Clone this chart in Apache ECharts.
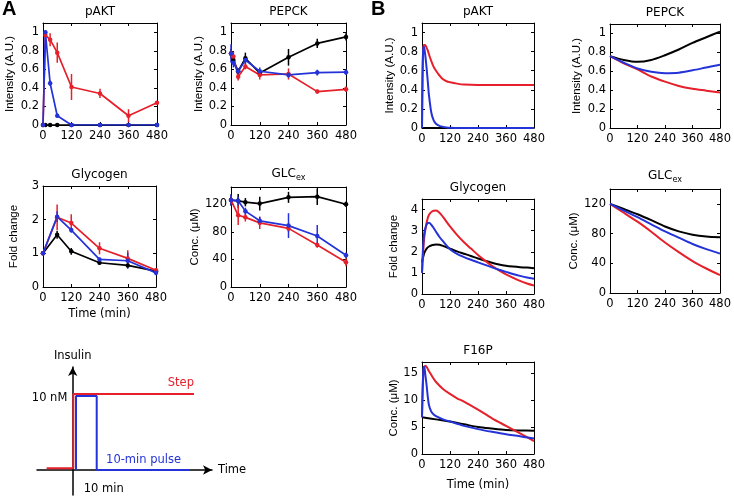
<!DOCTYPE html>
<html><head><meta charset="utf-8">
<script src="https://cdn.jsdelivr.net/npm/echarts@6/dist/echarts.min.js"></script>
<style>html,body{margin:0;padding:0;background:#fff}#c{width:734px;height:496px}</style>
</head><body><div id="c"></div>
<script>
// ---------- Panel A (experiment) ----------
const aPaktT = [0, 10, 30, 60, 120, 240, 360, 480];
const aPaktNone = [0, 0, 0, 0, 0, 0, 0, 0];
const aPaktStep = [0, 0.97, 0.92, 0.78, 0.41, 0.34, 0.10, 0.24];
const aPaktStepErr = [0, 0.03, 0.07, 0.11, 0.14, 0.05, 0.07, 0.02];
const aPaktPulse = [0, 1.0, 0.45, 0.10, 0, 0, 0, 0];
const aPaktPulseErr = [0, 0.02, 0.03, 0.02, 0, 0, 0, 0];

const aPepckT = [0, 10, 30, 60, 120, 240, 360, 480];
const aPepckNone = [0.77, 0.70, 0.58, 0.72, 0.56, 0.73, 0.88, 0.95];
const aPepckNoneErr = [0.05, 0.04, 0.03, 0.06, 0.03, 0.09, 0.05, 0.04];
const aPepckStep = [0.77, 0.74, 0.52, 0.63, 0.54, 0.55, 0.36, 0.385];
const aPepckStepErr = [0.04, 0.05, 0.04, 0.03, 0.05, 0.06, 0.02, 0.03];
const aPepckPulse = [0.77, 0.67, 0.58, 0.70, 0.58, 0.54, 0.565, 0.57];
const aPepckPulseErr = [0.10, 0.05, 0.03, 0.04, 0.04, 0.03, 0.03, 0.03];

const aGlyT = [0, 60, 120, 240, 360, 480];
const aGlyNone = [1.0, 1.55, 1.06, 0.72, 0.64, 0.47];
const aGlyNoneErr = [0, 0.12, 0.10, 0.06, 0.05, 0.04];
const aGlyStep = [1.0, 2.07, 1.90, 1.15, 0.85, 0.50];
const aGlyStepErr = [0, 0.38, 0.26, 0.18, 0.24, 0.05];
const aGlyPulse = [1.0, 2.09, 1.69, 0.82, 0.78, 0.42];
const aGlyPulseErr = [0.05, 0.16, 0.08, 0.05, 0.24, 0.07];

const aGlcT = [0, 30, 60, 120, 240, 360, 480];
const aGlcNone = [126, 125, 123, 121, 130, 131, 120];
const aGlcNoneErr = [8, 10, 6, 10, 8, 12, 4];
const aGlcStep = [126, 104, 101, 93, 85, 61, 36];
const aGlcStepErr = [6, 14, 6, 9, 5, 4, 6];
const aGlcPulse = [126, 125, 110, 96, 89, 74, 46];
const aGlcPulseErr = [8, 6, 5, 6, 18, 16, 4];

// ---------- Panel B (model) ----------
const bPaktT = [0, 2, 5, 8, 12, 16, 20, 25, 30, 40, 50, 60, 75, 90, 105, 120, 150, 180, 240, 300, 360, 420, 480];
const bPaktStep = [0, 0.5, 0.82, 0.87, 0.87, 0.86, 0.84, 0.81, 0.77, 0.70, 0.64, 0.60, 0.55, 0.51, 0.49, 0.48, 0.465, 0.455, 0.45, 0.45, 0.45, 0.45, 0.45];
const bPaktPulse = [0, 0.5, 0.83, 0.85, 0.80, 0.72, 0.62, 0.48, 0.34, 0.16, 0.08, 0.045, 0.022, 0.012, 0.006, 0.003, 0, 0, 0, 0, 0, 0, 0];
const bPaktNoneT = [0, 480];
const bPaktNone = [0, 0];

const bPepckT = [0, 60, 120, 180, 240, 300, 360, 420, 480];
const bPepckNone = [0.76, 0.72, 0.70, 0.72, 0.77, 0.83, 0.90, 0.96, 1.02];
const bPepckStep = [0.76, 0.685, 0.62, 0.545, 0.49, 0.445, 0.415, 0.395, 0.375];
const bPepckPulse = [0.76, 0.69, 0.63, 0.595, 0.58, 0.585, 0.61, 0.64, 0.67];

const bGlyT = [0, 5, 10, 20, 30, 45, 60, 75, 90, 120, 150, 180, 210, 240, 270, 300, 330, 360, 390, 420, 450, 480];
const bGlyStep = [1.0, 2.0, 2.7, 3.4, 3.75, 3.93, 3.95, 3.85, 3.65, 3.2, 2.8, 2.45, 2.15, 1.85, 1.58, 1.33, 1.12, 0.93, 0.77, 0.62, 0.5, 0.4];
const bGlyPulse = [1.0, 2.3, 2.9, 3.3, 3.38, 3.2, 2.95, 2.7, 2.5, 2.12, 1.9, 1.75, 1.62, 1.5, 1.38, 1.26, 1.15, 1.05, 0.95, 0.86, 0.78, 0.72];
const bGlyNone = [1.5, 1.75, 1.95, 2.15, 2.25, 2.32, 2.35, 2.33, 2.28, 2.15, 2.02, 1.91, 1.8, 1.68, 1.58, 1.48, 1.4, 1.34, 1.3, 1.27, 1.25, 1.22];

const bGlcT = [0, 60, 120, 180, 240, 300, 360, 420, 480];
const bGlcNone = [120, 113, 106, 98, 89.5, 83, 78.5, 76, 75];
const bGlcStep = [120, 108, 96, 82.5, 68, 55, 43, 33, 24];
const bGlcPulse = [120, 111, 102, 92.5, 83, 74.5, 66, 59, 53];

const bF16T = [0, 3, 6, 8, 10, 12, 15, 20, 25, 30, 40, 50, 60, 90, 120, 150, 180, 240, 300, 360, 420, 480];
const bF16Step = [6.8, 12.0, 14.8, 15.6, 16.0, 16.2, 16.3, 16.1, 15.7, 15.3, 14.6, 13.9, 13.3, 12.0, 11.1, 10.3, 9.7, 8.2, 6.6, 5.2, 3.8, 2.4];
const bF16Pulse = [6.8, 12.5, 15.6, 16.1, 16.0, 15.5, 14.4, 12.6, 10.5, 9.0, 7.8, 7.3, 7.0, 6.4, 6.0, 5.6, 5.2, 4.6, 4.1, 3.65, 3.3, 2.85];
const bF16NoneT = [0, 60, 120, 180, 240, 300, 360, 420, 480];
const bF16None = [6.8, 6.4, 6.0, 5.5, 5.0, 4.7, 4.45, 4.35, 4.3];

// ---------- Insulin schematic ----------
const insStepT = [-12.6, 0.3, 0.3, 58.6];
const insStepV = [0.22, 0.22, 10, 10];
const insPulseT = [1.6, 1.6, 11.6, 11.6, 56.7];
const insPulseV = [0, 9.74, 9.74, 0, 0];

// ---------- styling ----------
const FONT = 'DejaVu Sans';
const FONT_V = 'Liberation Sans';
const RED = '#e5202a', BLUE = '#2433d8', BLACK = '#000000';

const panels = [
  {box: [43, 23, 114, 102], title: 'pAKT', ymax: 1.1, yint: 0.2, yname: 'Intensity (A.U.)', ygap: 27, exp: true,
   lines: [[aPaktT, aPaktNone, null, BLACK], [aPaktT, aPaktStep, aPaktStepErr, RED], [aPaktT, aPaktPulse, aPaktPulseErr, BLUE]]},
  {box: [231, 23, 115, 102], title: 'PEPCK', ymax: 1.1, yint: 0.2, yname: 'Intensity (A.U.)', ygap: 26, exp: true,
   lines: [[aPepckT, aPepckNone, aPepckNoneErr, BLACK], [aPepckT, aPepckStep, aPepckStepErr, RED], [aPepckT, aPepckPulse, aPepckPulseErr, BLUE]]},
  {box: [43, 186, 113, 101], title: 'Glycogen', ymax: 3, yint: 1, yname: 'Fold change', ygap: 23, exp: true, xname: 'Time (min)', xgap: 21,
   lines: [[aGlyT, aGlyNone, aGlyNoneErr, BLACK], [aGlyT, aGlyStep, aGlyStepErr, RED], [aGlyT, aGlyPulse, aGlyPulseErr, BLUE]]},
  {box: [231, 187, 115, 100], title: 'GLCex', ymax: 145, yint: 40, yname: 'Conc. (\u03bcM)', ygap: 28, exp: true,
   lines: [[aGlcT, aGlcNone, aGlcNoneErr, BLACK], [aGlcT, aGlcStep, aGlcStepErr, RED], [aGlcT, aGlcPulse, aGlcPulseErr, BLUE]]},
  {box: [422, 23, 112, 105], title: 'pAKT', ymax: 1.1, yint: 0.2, yname: 'Intensity (A.U.)', ygap: 25,
   lines: [[bPaktNoneT, bPaktNone, null, BLACK], [bPaktT, bPaktStep, null, RED], [bPaktT, bPaktPulse, null, BLUE]]},
  {box: [610, 24, 114, 104], title: 'PEPCK', ymax: 1.1, yint: 0.2, yname: 'Intensity (A.U.)', ygap: 27,
   lines: [[bPepckT, bPepckNone, null, BLACK], [bPepckT, bPepckStep, null, RED], [bPepckT, bPepckPulse, null, BLUE]]},
  {box: [422, 199, 112, 95], title: 'Glycogen', ymax: 4.5, yint: 1, yname: 'Fold change', ygap: 22,
   lines: [[bGlyT, bGlyNone, null, BLACK], [bGlyT, bGlyStep, null, RED], [bGlyT, bGlyPulse, null, BLUE]]},
  {box: [610, 189, 113, 104], title: 'GLCex', ymax: 140, yint: 40, yname: 'Conc. (\u03bcM)', ygap: 27,
   lines: [[bGlcT, bGlcNone, null, BLACK], [bGlcT, bGlcStep, null, RED], [bGlcT, bGlcPulse, null, BLUE]]},
  {box: [422, 362, 112, 92], title: 'F16P', ymax: 17, yint: 5, yname: 'Conc. (\u03bcM)', ygap: 22, xname: 'Time (min)', xgap: 25,
   lines: [[bF16NoneT, bF16None, null, BLACK], [bF16T, bF16Step, null, RED], [bF16T, bF16Pulse, null, BLUE]]}
];

const grids = [], xAxes = [], yAxes = [], series = [];
const fmt = v => String(Math.round(v * 1000) / 1000);
const lineStyleAx = {color: '#000', width: 1};

function titleName(t) {
  if (t === 'GLCex') return '{m|GLC}{s|ex}';
  return t;
}
const titleRich = {
  m: {fontSize: 12, fontFamily: FONT, color: '#000', verticalAlign: 'top'},
  s: {fontSize: 8, fontFamily: FONT, color: '#000', padding: [6, 0, 0, 0], verticalAlign: 'top'}
};

panels.forEach((p, i) => {
  grids.push({left: p.box[0], top: p.box[1], width: p.box[2], height: p.box[3], containLabel: false});
  const xb = {gridIndex: i, type: 'value', min: 0, max: 480, interval: 120,
    axisLine: {onZero: false, lineStyle: lineStyleAx},
    axisTick: {inside: true, length: 3, lineStyle: {color: '#000'}},
    splitLine: {show: false}};
  xAxes.push(Object.assign({}, xb, {position: 'bottom',
    axisLabel: {margin: 5, fontSize: 11.5, color: '#000', fontFamily: FONT, formatter: fmt},
    name: p.xname || '', nameLocation: 'middle', nameGap: p.xgap || 20,
    nameTextStyle: {fontSize: 11.5, color: '#000', fontFamily: FONT}}));
  xAxes.push(Object.assign({}, xb, {position: 'top', axisLabel: {show: false},
    name: titleName(p.title), nameLocation: 'middle', nameGap: 5,
    nameTextStyle: {fontSize: 12, color: '#000', fontFamily: FONT, rich: titleRich}}));
  const yb = {gridIndex: i, type: 'value', min: 0, max: p.ymax, interval: p.yint,
    axisLine: {onZero: false, lineStyle: lineStyleAx},
    axisTick: {inside: true, length: 3, lineStyle: {color: '#000'}},
    splitLine: {show: false}};
  yAxes.push(Object.assign({}, yb, {position: 'left',
    axisLabel: {margin: 4, fontSize: 11.5, color: '#000', fontFamily: FONT, formatter: fmt, showMaxLabel: (p.ymax % p.yint === 0)},
    name: p.yname, nameLocation: 'middle', nameGap: p.ygap, nameRotate: 90,
    nameTextStyle: {fontSize: 11.5, color: '#000', fontFamily: FONT_V}}));
  yAxes.push(Object.assign({}, yb, {position: 'right', axisLabel: {show: false}}));

  const xi = 2 * i, yi = 2 * i;
  p.lines.forEach(([t, v, e, c]) => {
    series.push({type: 'line', xAxisIndex: xi, yAxisIndex: yi,
      data: t.map((x, k) => [x, v[k]]),
      showSymbol: !!p.exp, symbol: 'circle', symbolSize: p.exp ? 4.5 : 0,
      smooth: p.exp ? false : 0.3,
      lineStyle: {color: c, width: p.exp ? 1.7 : 2},
      itemStyle: {color: c}, clip: true, silent: true});
    if (e) {
      series.push({type: 'custom', xAxisIndex: xi, yAxisIndex: yi, silent: true,
        data: t.map((x, k) => [x, v[k], e[k]]),
        renderItem: (params, api) => {
          const x = api.value(0), y = api.value(1), d = api.value(2);
          if (!d) return {type: 'group', children: []};
          const p1 = api.coord([x, y - d]), p2 = api.coord([x, y + d]);
          return {type: 'line', shape: {x1: p1[0], y1: p1[1], x2: p2[0], y2: p2[1]},
            style: {stroke: c, lineWidth: 1.5}};
        }});
    }
  });
});

// schematic grid
const gs = panels.length;
grids.push({left: 37, top: 367, width: 175, height: 128});
xAxes.push({gridIndex: gs, type: 'value', min: -17.25, max: 67.3,
  axisLine: {onZero: true, symbol: ['none', 'arrow'], symbolSize: [7, 9], lineStyle: {color: '#000', width: 1.5}},
  axisTick: {show: false}, axisLabel: {show: false}, splitLine: {show: false},
  name: 'Time', nameLocation: 'end', nameGap: 6,
  nameTextStyle: {fontSize: 11.5, color: '#000', fontFamily: FONT}});
yAxes.push({gridIndex: gs, type: 'value', min: -3.29, max: 13.55,
  axisLine: {onZero: true, symbol: ['none', 'arrow'], symbolSize: [7, 9], lineStyle: {color: '#000', width: 1.5}},
  axisTick: {show: false}, axisLabel: {show: false}, splitLine: {show: false},
  name: 'Insulin', nameLocation: 'end', nameGap: 5,
  nameTextStyle: {fontSize: 11.5, color: '#000', fontFamily: FONT}});
const sxi = xAxes.length - 1, syi = yAxes.length - 1;
const lbl = (text, extra) => Object.assign({show: true, formatter: text, fontSize: 11.5, fontFamily: FONT}, extra);
series.push({type: 'line', xAxisIndex: sxi, yAxisIndex: syi, silent: true,
  symbol: 'circle', symbolSize: 0.01, showSymbol: true,
  lineStyle: {color: BLUE, width: 2}, itemStyle: {color: BLUE},
  data: insPulseT.map((x, k) => {
    const d = {value: [x, insPulseV[k]]};
    if (k === 3) d.label = lbl('10 min', {position: 'bottom', distance: 13, offset: [7, 0], color: '#000'});
    if (k === 4) d.label = lbl('10-min pulse', {position: 'top', align: 'right', distance: 4, offset: [-9, 0], color: BLUE});
    return d;
  })});
series.push({type: 'line', xAxisIndex: sxi, yAxisIndex: syi, silent: true,
  symbol: 'circle', symbolSize: 0.01, showSymbol: true,
  lineStyle: {color: RED, width: 2}, itemStyle: {color: RED},
  data: insStepT.map((x, k) => {
    const d = {value: [x, insStepV[k]]};
    if (k === 2) d.label = lbl('10 nM', {position: 'left', distance: 6, offset: [0, 4], color: '#000'});
    if (k === 3) d.label = lbl('Step', {position: 'top', align: 'right', distance: 5, color: RED});
    return d;
  })});

const option = {
  animation: false,
  backgroundColor: '#fff',
  textStyle: {fontFamily: FONT},
  title: [
    {text: 'A', left: 2, top: -1, padding: 0, textStyle: {fontSize: 20, fontWeight: 'bold', color: '#000', fontFamily: 'Liberation Sans'}},
    {text: 'B', left: 371, top: -1, padding: 0, textStyle: {fontSize: 20, fontWeight: 'bold', color: '#000', fontFamily: 'Liberation Sans'}}
  ],
  grid: grids, xAxis: xAxes, yAxis: yAxes, series: series
};
const chart = echarts.init(document.getElementById('c'), null, {renderer: 'canvas'});
chart.setOption(option);
</script></body></html>
